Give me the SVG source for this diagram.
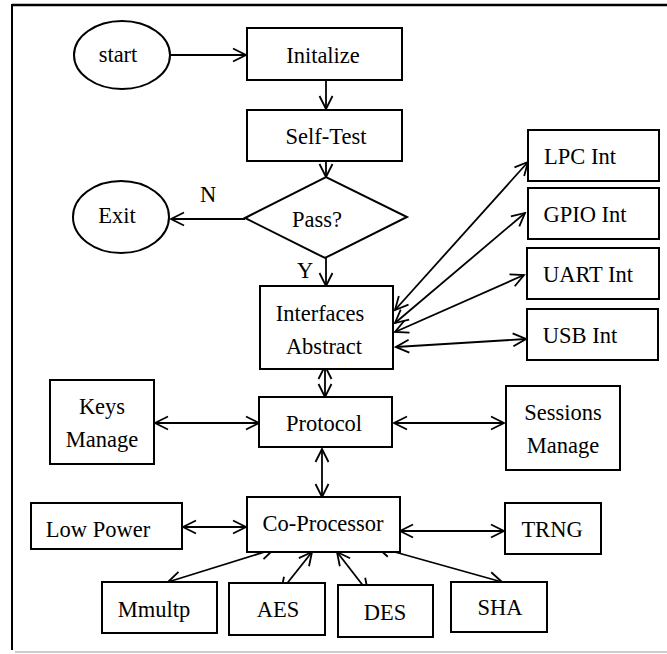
<svg xmlns="http://www.w3.org/2000/svg" width="667" height="654" viewBox="0 0 667 654">
<style>
.box{fill:#fff;stroke:#000;stroke-width:2}
.t{font-family:"Liberation Serif","Times New Roman",serif;font-size:22.5px;fill:#000;text-anchor:middle}
.c{fill:none;stroke:#000;stroke-width:1.8}
.a{marker-end:url(#ah)}
.b{marker-start:url(#ah);marker-end:url(#ah)}
</style>
<defs>
<marker id="ah" markerUnits="userSpaceOnUse" viewBox="-15 -8 17 16" refX="0" refY="0" markerWidth="17" markerHeight="16" orient="auto-start-reverse">
<path d="M-13,-6.5 L0,0 L-13,6.5" fill="none" stroke="#000" stroke-width="1.8"/>
</marker>
</defs>
<rect width="667" height="654" fill="#fff"/>
<g id="frame">
<line x1="12" y1="5" x2="667" y2="5" stroke="#000" stroke-width="2.5"/>
<line x1="12" y1="4" x2="12" y2="650" stroke="#000" stroke-width="2"/>
<line x1="15" y1="652" x2="667" y2="652" stroke="#bbb" stroke-width="1.5"/>
</g>
<g id="connectors">
<path class="c a" d="M170,55 L246,55"/>
<path class="c a" d="M326,80 L326,109"/>
<path class="c a" d="M326,153 L326,177"/>
<path class="c a" d="M245,219 L171,219"/>
<path class="c a" d="M326,258 L326,286"/>
<path class="c b" d="M325,366 L325,397"/>
<path class="c b" d="M155,423 L259,423"/>
<path class="c b" d="M394,423 L504,423"/>
<path class="c b" d="M322,449 L322,497"/>
<path class="c b" d="M183,527 L246,527"/>
<path class="c b" d="M400,531 L504,531"/>
<path class="c b" d="M274,549 L168,582"/>
<path class="c b" d="M312,552 L281,591"/>
<path class="c b" d="M337,552 L368,592"/>
<path class="c b" d="M377,547 L502,582"/>
<path class="c b" d="M395,310 L528,162"/>
<path class="c b" d="M395,323 L525,213"/>
<path class="c b" d="M395,332 L524,275"/>
<path class="c b" d="M396,347 L526,339"/>
</g>
<g id="start"><ellipse class="box" cx="122" cy="55" rx="48" ry="34"/><text class="t" x="118" y="62">start</text></g>
<g id="initalize"><rect class="box" x="247" y="28" width="155" height="52"/><text class="t" x="323" y="63">Initalize</text></g>
<g id="selftest"><rect class="box" x="247" y="110" width="155" height="51"/><text class="t" x="326" y="144">Self-Test</text></g>
<g id="pass"><polygon class="box" points="245,218 326,177 407,217 325,258"/><text class="t" x="317" y="227">Pass?</text></g>
<g id="exit"><ellipse class="box" cx="121" cy="217" rx="48" ry="36"/><text class="t" x="117" y="223">Exit</text></g>
<g id="labelN"><text class="t" x="208" y="202">N</text></g>
<g id="labelY"><text class="t" x="305" y="278">Y</text></g>
<g id="interfaces"><rect class="box" x="260" y="286" width="133" height="83"/><text class="t" x="320" y="321">Interfaces</text><text class="t" x="324" y="354">Abstract</text></g>
<g id="lpc"><rect class="box" x="528" y="130" width="131" height="51"/><text class="t" x="580" y="164">LPC Int</text></g>
<g id="gpio"><rect class="box" x="528" y="188" width="131" height="51"/><text class="t" x="585" y="222">GPIO Int</text></g>
<g id="uart"><rect class="box" x="527" y="248" width="132" height="51"/><text class="t" x="588" y="282">UART Int</text></g>
<g id="usb"><rect class="box" x="527" y="309" width="131" height="51"/><text class="t" x="580" y="343">USB Int</text></g>
<g id="keys"><rect class="box" x="50" y="380" width="104" height="84"/><text class="t" x="102" y="414">Keys</text><text class="t" x="102" y="447">Manage</text></g>
<g id="protocol"><rect class="box" x="259" y="397" width="133" height="50"/><text class="t" x="324" y="431">Protocol</text></g>
<g id="sessions"><rect class="box" x="506" y="386" width="114" height="84"/><text class="t" x="563" y="420">Sessions</text><text class="t" x="563" y="453">Manage</text></g>
<g id="lowpower"><rect class="box" x="31" y="503" width="151" height="46"/><text class="t" x="98" y="537">Low Power</text></g>
<g id="coprocessor"><rect class="box" x="247" y="497" width="153" height="55"/><text class="t" x="323" y="531">Co-Processor</text></g>
<g id="trng"><rect class="box" x="505" y="503" width="96" height="51"/><text class="t" x="552" y="537">TRNG</text></g>
<g id="mmultp"><rect class="box" x="102" y="582" width="115" height="51"/><text class="t" x="154" y="617">Mmultp</text></g>
<g id="aes"><rect class="box" x="229" y="583" width="96" height="52"/><text class="t" x="278" y="617">AES</text></g>
<g id="des"><rect class="box" x="338" y="585" width="95" height="52"/><text class="t" x="385" y="620">DES</text></g>
<g id="sha"><rect class="box" x="451" y="582" width="96" height="50"/><text class="t" x="500" y="615">SHA</text></g>
</svg>
